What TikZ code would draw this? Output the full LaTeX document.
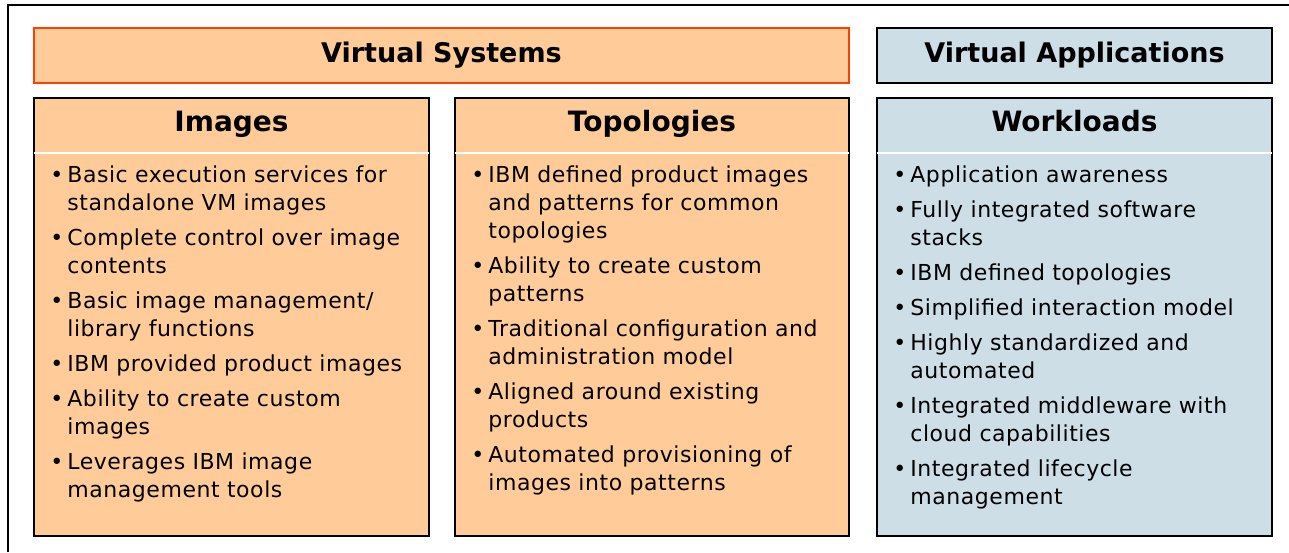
\documentclass[tikz,border=0pt]{standalone}
\usepackage{fontspec}
\setmainfont{DejaVu Sans}
\newfontfamily\bodyfont[LetterSpace=2.5]{DejaVu Sans}
\usepackage{tikz}
\usetikzlibrary{positioning,calc}
\definecolor{sysorange}{RGB}{255,204,153}
\definecolor{sysred}{RGB}{255,64,0}
\definecolor{appblue}{RGB}{205,222,231}
\newcommand\bitem[1]{\par\hangindent=7pt\hangafter=1\noindent\makebox[7pt][l]{\hspace{-1.5pt}\textbullet}#1\par}

\begin{document}
\begin{tikzpicture}[x=0.5pt,y=-0.5pt,
    titlebox/.style={draw,line width=1pt,anchor=north west,minimum height=27.5pt,inner sep=0pt,
      font=\fontsize{13.5}{16}\selectfont\bfseries},
    colbox/.style={draw,line width=1pt,anchor=north west,minimum width=197.5pt,minimum height=219pt,inner sep=0pt},
    colhead/.style={anchor=base,font=\fontsize{14}{16}\selectfont\bfseries,inner sep=0pt},
    blist/.style={anchor=base west,inner sep=0pt,text width=190pt,align=left,
      font=\bodyfont\fontsize{11}{14}\selectfont,execute at begin node=\setlength{\parskip}{3.5pt}}]
  \useasboundingbox (0,0) rectangle (1289,552);
  \draw[line width=0.6pt] (8,552) -- (8,5) -- (1289,5);

  \node[titlebox,fill=sysorange,draw=sysred,minimum width=407.5pt] (vsys) at (33,27) {Virtual Systems};
  \node[titlebox,fill=appblue,minimum width=197.5pt] (vapp) at (876,27) {Virtual Applications};

  \node[colbox,fill=sysorange] (img) at (33,97) {};
  \node[colbox,fill=sysorange,minimum width=197pt] (top) at (454,97) {};
  \node[colbox,fill=appblue] (wkl) at (876,97) {};

  \foreach \b/\t in {img/Images,top/Topologies,wkl/Workloads}{
    \node[colhead] (\b-head) at ($(\b.north)+(0,34)$) {\t};
    \draw[white,line width=1pt] ($(\b.north west)+(1,56)$) -- ($(\b.north east)+(-1,56)$);
  }

  \node[blist] (img-list) at ($(img.north west)+(20,50)$) {%
    \bitem{Basic execution services for\newline standalone VM images}
    \bitem{Complete control over image\newline contents}
    \bitem{Basic image management/\newline library functions}
    \bitem{IBM provided product images}
    \bitem{Ability to create custom\newline images}
    \bitem{Leverages IBM image\newline management tools}};
  \node[blist] (top-list) at ($(top.north west)+(20,50)$) {%
    \bitem{IBM defined product images\newline and patterns for common\newline topologies}
    \bitem{Ability to create custom\newline patterns}
    \bitem{Traditional configuration and\newline administration model}
    \bitem{Aligned around existing\newline products}
    \bitem{Automated provisioning of\newline images into patterns}};
  \node[blist] (wkl-list) at ($(wkl.north west)+(20,50)$) {%
    \bitem{Application awareness}
    \bitem{Fully integrated software\newline stacks}
    \bitem{IBM defined topologies}
    \bitem{Simplified interaction model}
    \bitem{Highly standardized and\newline automated}
    \bitem{Integrated middleware with\newline cloud capabilities}
    \bitem{Integrated lifecycle\newline management}};
\end{tikzpicture}
\end{document}
